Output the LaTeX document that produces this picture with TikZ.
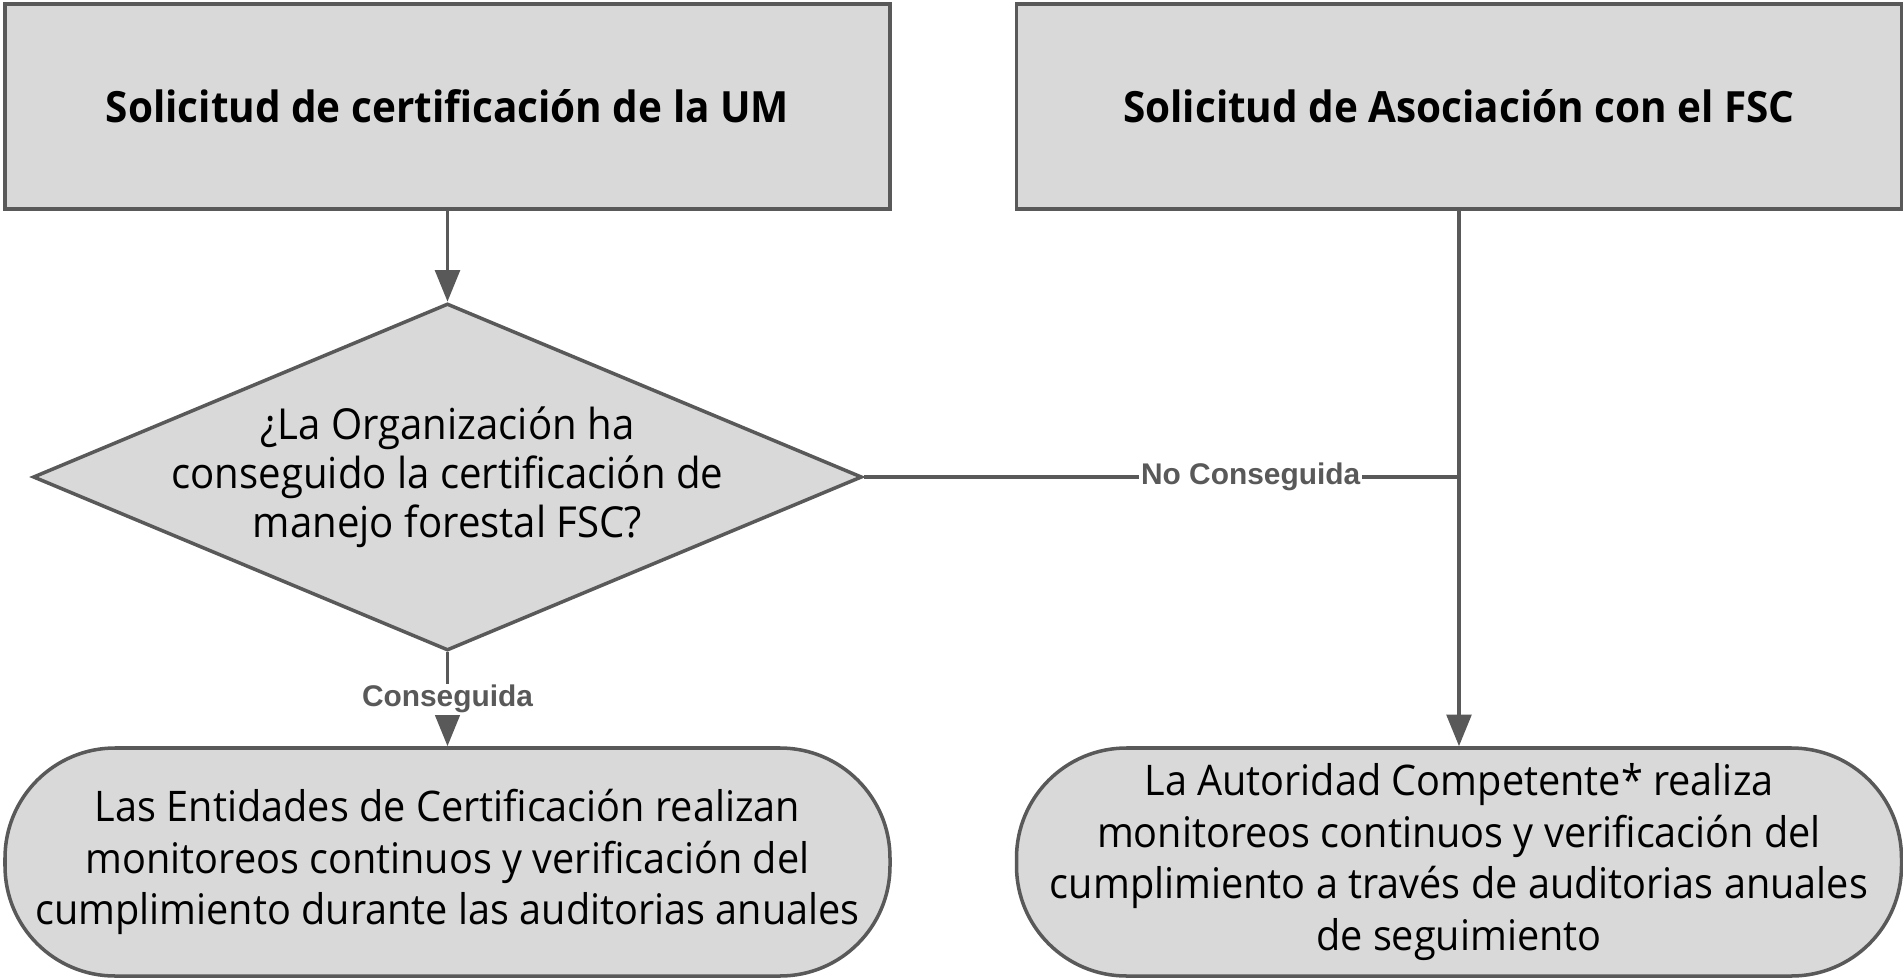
\documentclass[tikz,border=0pt]{standalone}
\usepackage{fontspec}
\setmainfont{Open Sans}[FakeStretch=0.94]
\newfontfamily\lblfont{Liberation Sans}
\usepackage{tikz}
\usetikzlibrary{shapes,arrows,arrows.meta,positioning,calc}
\definecolor{linegray}{HTML}{595959}
\definecolor{boxgray}{HTML}{D9D9D9}

\begin{document}
\begin{tikzpicture}[
    box/.style={rectangle, draw=linegray, line width=2pt, fill=boxgray, minimum width=17.7cm, minimum height=4.1cm, align=center, font=\fontsize{24.5}{30}\selectfont\bfseries},
    decision/.style={diamond, aspect=2.39, draw=linegray, line width=2pt, fill=boxgray, minimum width=16.58cm, minimum height=6.94cm, align=center, inner xsep=-1.2cm, inner ysep=0pt, font=\fontsize{24.3}{28}\selectfont},
    term/.style={rectangle, rounded corners=2.2cm, draw=linegray, line width=2pt, fill=boxgray, minimum width=17.7cm, minimum height=4.56cm, align=center, font=\fontsize{24}{29.5}\selectfont},
    flow/.style={draw=linegray, line width=2.2pt, -{Triangle[width=14pt,length=18pt]}},
    plain/.style={draw=linegray, line width=2.2pt},
    lbl/.style={fill=white, inner sep=1pt, text=linegray, font=\lblfont\fontsize{17}{20}\selectfont\bfseries},
]
    \useasboundingbox (0,0) rectangle (38.06,-19.6);

    \node[box] (req) at (8.95, -2.13) {Solicitud de certificación de la UM};
    \node[box] (assoc) at (29.18, -2.13) {Solicitud de Asociación con el FSC};

    \node[decision] (q) at (8.95, -9.54) {
        ¿La Organización ha\\
        conseguido la certificación de\\
        manejo forestal FSC?
    };

    \node[term] (ce) at (8.95, -17.24) {
        Las Entidades de Certificación realizan\\
        monitoreos continuos y verificación del\\
        cumplimiento durante las auditorias anuales
    };
    \node[term] (ac) at (29.18, -17.24) {
        La Autoridad Competente* realiza\\
        monitoreos continuos y verificación del\\
        cumplimiento a través de auditorias anuales\\
        de seguimiento
    };

    \coordinate (join) at (assoc.south |- q.east);

    \draw[flow] (req) -- (q);
    \draw[flow] (q) -- node[lbl] {Conseguida} (ce);
    \draw[flow] (assoc) -- (ac);
    \draw[plain] (q.east) -- node[lbl, pos=0.65] {No Conseguida} (join);
\end{tikzpicture}
\end{document}
